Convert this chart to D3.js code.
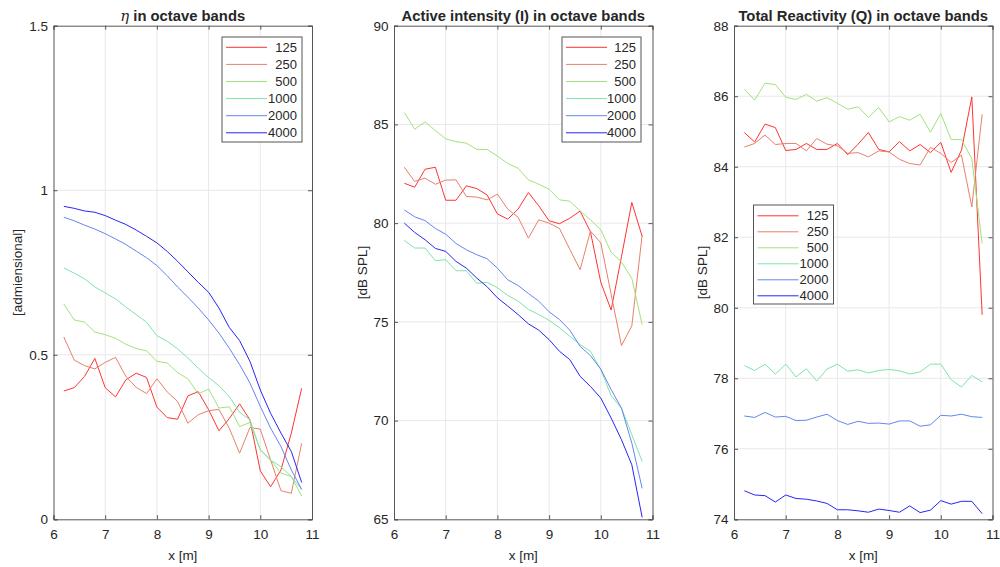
<!DOCTYPE html>
<meta charset="utf-8">
<script src="https://d3js.org/d3.v7.min.js"></script>
<style>
  body { margin: 0; background: #fff; }
  text { font-family: "Liberation Sans", Arial, Helvetica, sans-serif; fill: #262626; }
</style>
<div id="chart"></div>
<script>

// positions along the room, in metres
var xPos = [6.2, 6.4, 6.6, 6.8, 7.0, 7.2, 7.4, 7.6, 7.8, 8.0, 8.2, 8.4,
            8.6, 8.8, 9.0, 9.2, 9.4, 9.6, 9.8, 10.0, 10.2, 10.4, 10.6, 10.8];

var bands = ["125", "250", "500", "1000", "2000", "4000"];
var bandColors = ["#ff3333", "#e8806c", "#a3e27a", "#7ee4aa", "#6486f0", "#2626f5"];

var xTicks = [6, 7, 8, 9, 10, 11];

// eta
var eta125  = [0.39, 0.40, 0.434, 0.489, 0.40, 0.372, 0.424, 0.444, 0.431, 0.341, 0.309, 0.304,
               0.375, 0.388, 0.333, 0.269, 0.306, 0.351, 0.302, 0.147, 0.099, 0.15, 0.262, 0.398];
var eta250  = [0.554, 0.484, 0.467, 0.457, 0.477, 0.492, 0.434, 0.401, 0.382, 0.427, 0.387, 0.358,
               0.292, 0.318, 0.330, 0.334, 0.277, 0.201, 0.279, 0.274, 0.18, 0.087, 0.079, 0.231];
var eta500  = [0.654, 0.606, 0.599, 0.569, 0.561, 0.55, 0.532, 0.519, 0.512, 0.48, 0.475, 0.446,
               0.427, 0.381, 0.396, 0.338, 0.342, 0.282, 0.294, 0.211, 0.18, 0.14, 0.13, 0.071];
var eta1000 = [0.764, 0.748, 0.731, 0.706, 0.688, 0.670, 0.645, 0.622, 0.599, 0.558, 0.541, 0.518,
               0.49, 0.459, 0.431, 0.406, 0.373, 0.325, 0.302, 0.211, 0.18, 0.16, 0.13, 0.091];
var eta2000 = [0.918, 0.907, 0.894, 0.882, 0.868, 0.852, 0.835, 0.815, 0.795, 0.771, 0.74, 0.706,
               0.675, 0.642, 0.606, 0.566, 0.52, 0.47, 0.414, 0.343, 0.277, 0.221, 0.15, 0.091];
var eta4000 = [0.951, 0.945, 0.937, 0.933, 0.923, 0.909, 0.896, 0.879, 0.86, 0.84, 0.814, 0.784,
               0.752, 0.72, 0.69, 0.642, 0.583, 0.543, 0.48, 0.393, 0.322, 0.262, 0.206, 0.112];

// active intensity
var int125  = [82.02, 81.82, 82.73, 82.83, 81.16, 81.16, 81.89, 81.75, 81.43, 80.47, 80.2, 80.71,
               81.55, 80.88, 80.12, 79.97, 80.25, 80.61, 79.56, 77.0, 75.6, 78.3, 81.05, 79.33];
var int250  = [82.83, 82.11, 82.28, 81.97, 82.18, 82.19, 81.35, 81.32, 81.18, 81.47, 80.71, 80.3,
               79.24, 80.17, 80.0, 79.73, 78.68, 77.64, 79.6, 79.0, 76.4, 73.8, 74.8, 79.4];
var int500  = [85.6, 84.76, 85.13, 84.69, 84.27, 84.13, 84.05, 83.74, 83.73, 83.4, 83.02, 82.78,
               82.19, 81.97, 81.72, 81.18, 81.11, 80.62, 80.17, 79.66, 78.53, 78.03, 77.2, 74.86];
var int1000 = [79.12, 78.74, 78.74, 78.1, 78.15, 77.59, 77.59, 76.95, 77.0, 76.73, 76.34, 76.05,
               75.63, 75.37, 75.08, 74.7, 74.27, 73.85, 73.51, 72.58, 71.26, 70.63, 69.28, 67.93];
var int2000 = [80.67, 80.32, 80.13, 79.73, 79.44, 78.97, 78.65, 78.40, 78.2, 77.72, 77.13, 76.84,
               76.44, 76.05, 75.51, 75.12, 74.58, 73.76, 73.29, 72.61, 71.57, 70.63, 68.86, 66.57];
var int4000 = [80.0, 79.53, 79.16, 78.72, 78.57, 78.06, 77.72, 77.22, 76.78, 76.22, 75.8, 75.37,
               74.9, 74.58, 74.1, 73.51, 73.09, 72.24, 71.73, 71.14, 70.13, 69.03, 67.76, 65.1];

// total reactivity
var q125  = [84.97, 84.7, 85.21, 85.11, 84.46, 84.49, 84.66, 84.49, 84.49, 84.66, 84.34, 84.64,
             84.97, 84.49, 84.42, 84.71, 84.45, 84.63, 84.4, 84.69, 83.84, 84.47, 85.98, 79.8];
var q250  = [84.56, 84.66, 84.9, 84.63, 84.66, 84.66, 84.45, 84.8, 84.64, 84.59, 84.38, 84.4,
             84.28, 84.45, 84.42, 84.21, 84.09, 84.05, 84.55, 84.38, 84.12, 84.33, 82.86, 85.49];
var q500  = [86.2, 85.89, 86.37, 86.33, 85.97, 85.91, 86.05, 85.86, 85.96, 85.8, 85.63, 85.7,
             85.4, 85.68, 85.27, 85.42, 85.32, 85.49, 84.98, 85.51, 84.77, 84.77, 84.23, 81.82];
var q1000 = [78.36, 78.22, 78.4, 78.12, 78.4, 78.04, 78.27, 77.92, 78.26, 78.4, 78.2, 78.24,
             78.15, 78.22, 78.25, 78.21, 78.12, 78.18, 78.4, 78.4, 77.96, 77.75, 78.08, 77.9];
var q2000 = [76.93, 76.89, 77.03, 76.9, 76.92, 76.8, 76.81, 76.9, 76.98, 76.8, 76.69, 76.78,
             76.72, 76.73, 76.7, 76.79, 76.79, 76.64, 76.68, 76.95, 76.93, 76.98, 76.91, 76.89];
var q4000 = [74.81, 74.69, 74.67, 74.49, 74.69, 74.59, 74.57, 74.52, 74.45, 74.27, 74.27, 74.24,
             74.2, 74.29, 74.25, 74.2, 74.38, 74.19, 74.26, 74.53, 74.43, 74.51, 74.51, 74.16];

var panels = [
  { title: "in octave bands", eta: true, ylabel: "[admiensional]",
    left: 53.5, ylabelX: 17, yDomain: [0, 1.5], yTicks: [0, 0.5, 1, 1.5],
    series: [eta125, eta250, eta500, eta1000, eta2000, eta4000],
    legend: { x: 222, y: 37, w: 80, h: 105, step: 17.1, first: 10.3 } },
  { title: "Active intensity (I) in octave bands", ylabel: "[dB SPL]",
    left: 394, ylabelX: 362, yDomain: [65, 90], yTicks: [65, 70, 75, 80, 85, 90],
    series: [int125, int250, int500, int1000, int2000, int4000],
    legend: { x: 562, y: 37, w: 79, h: 105, step: 17.1, first: 10.3 } },
  { title: "Total Reactivity (Q) in octave bands", ylabel: "[dB SPL]",
    left: 734, ylabelX: 702, yDomain: [74, 88], yTicks: [74, 76, 78, 80, 82, 84, 86, 88],
    series: [q125, q250, q500, q1000, q2000, q4000],
    legend: { x: 753.5, y: 205, w: 80, h: 99, step: 16, first: 10.8 } }
];

var W = 1000, H = 567;
var plotTop = 25.7, plotBottom = 519.3, plotW = 258.5;

var svg = d3.select("#chart").append("svg")
  .attr("width", W).attr("height", H);

panels.forEach(function(p) {
  var x = d3.scaleLinear().domain([6, 11]).range([p.left, p.left + plotW]);
  var y = d3.scaleLinear().domain(p.yDomain).range([plotBottom, plotTop]);
  var g = svg.append("g");

  // grid
  g.selectAll(".vgrid").data(xTicks.slice(1, -1)).enter().append("line")
    .attr("x1", d => x(d)).attr("x2", d => x(d))
    .attr("y1", plotTop).attr("y2", plotBottom)
    .attr("stroke", "#e8e8e8").attr("stroke-width", 1);
  g.selectAll(".hgrid").data(p.yTicks.slice(1, -1)).enter().append("line")
    .attr("x1", p.left).attr("x2", p.left + plotW)
    .attr("y1", d => y(d)).attr("y2", d => y(d))
    .attr("stroke", "#e8e8e8").attr("stroke-width", 1);

  // data lines
  var line = d3.line()
    .x(function(d, i) { return x(xPos[i]); })
    .y(function(d) { return y(d); });
  p.series.forEach(function(s, k) {
    g.append("path")
      .datum(s)
      .attr("d", line)
      .attr("fill", "none")
      .attr("stroke", bandColors[k])
      .attr("stroke-width", 1);
  });

  // axes (matlab style: ticks inside, on all four sides)
  var axisStroke = "#555";
  var bx = g.append("g").attr("transform", "translate(0," + plotBottom + ")")
    .call(d3.axisBottom(x).tickValues(xTicks).tickSize(-4).tickPadding(10).tickFormat(d3.format("d")));
  var tx = g.append("g").attr("transform", "translate(0," + plotTop + ")")
    .call(d3.axisTop(x).tickValues(xTicks).tickSize(-4).tickFormat(""));
  var ly = g.append("g").attr("transform", "translate(" + p.left + ",0)")
    .call(d3.axisLeft(y).tickValues(p.yTicks).tickSize(-4).tickPadding(5.5).tickFormat(d3.format("")));
  var ry = g.append("g").attr("transform", "translate(" + (p.left + plotW) + ",0)")
    .call(d3.axisRight(y).tickValues(p.yTicks).tickSize(-4).tickFormat(""));
  [bx, tx, ly, ry].forEach(function(a) {
    a.select(".domain").attr("stroke", axisStroke);
    a.selectAll(".tick line").attr("stroke", axisStroke);
    a.selectAll(".tick text").attr("font-size", 13.5).attr("fill", "#262626")
      .style("font-family", "'Liberation Sans', Arial, sans-serif");
  });

  // title
  var t = g.append("text")
    .attr("x", p.left + plotW / 2).attr("y", 21)
    .attr("text-anchor", "middle")
    .attr("font-size", 14.8).attr("font-weight", "bold").attr("fill", "#000");
  if (p.eta) {
    t.append("tspan").text("\u03b7")
      .style("font-family", "'DejaVu Serif', 'Liberation Serif', serif")
      .attr("font-style", "italic").attr("font-weight", "normal");
    t.append("tspan").text(" " + p.title);
  } else {
    t.text(p.title);
  }

  // axis labels
  g.append("text")
    .attr("x", p.left + plotW / 2).attr("y", 560)
    .attr("text-anchor", "middle").attr("font-size", 13.5)
    .text("x [m]");
  g.append("text")
    .attr("transform", "translate(" + p.ylabelX + "," + ((plotTop + plotBottom) / 2) + ") rotate(-90)")
    .attr("text-anchor", "middle").attr("dy", "0.35em").attr("font-size", 13.5)
    .text(p.ylabel);

  // legend
  var L = p.legend;
  var lg = g.append("g").attr("transform", "translate(" + L.x + "," + L.y + ")");
  lg.append("rect")
    .attr("width", L.w).attr("height", L.h)
    .attr("fill", "#fff").attr("stroke", "#555").attr("stroke-width", 1);
  bands.forEach(function(b, k) {
    var yy = L.first + k * L.step;
    lg.append("line")
      .attr("x1", 4).attr("x2", 45).attr("y1", yy).attr("y2", yy)
      .attr("stroke", bandColors[k]).attr("stroke-width", 1);
    lg.append("text")
      .attr("x", L.w - 5).attr("y", yy).attr("dy", "0.36em")
      .attr("text-anchor", "end").attr("font-size", 13)
      .attr("fill", "#000")
      .text(b);
  });
});

</script>
